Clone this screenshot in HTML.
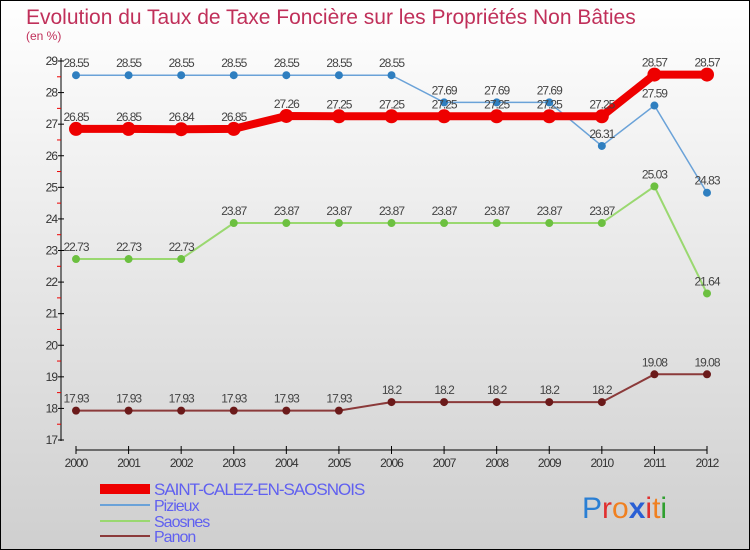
<!DOCTYPE html>
<html><head><meta charset="utf-8"><style>
body{margin:0}
svg{display:block;font-family:"Liberation Sans",sans-serif}
</style></head><body>
<svg width="750" height="550" viewBox="0 0 750 550">
<defs><linearGradient id="bg" x1="0" y1="0" x2="0" y2="1"><stop offset="0" stop-color="#ffffff"/><stop offset="1" stop-color="#cfcfcf"/></linearGradient></defs>
<rect x="0.5" y="0.5" width="749" height="549" fill="url(#bg)" stroke="#000"/>
<text x="26" y="24" font-size="21" fill="#c0305a">Evolution du Taux de Taxe Foncière sur les Propriétés Non Bâties</text>
<text x="26" y="40" font-size="12" fill="#c0305a">(en %)</text>
<g id="axes"></g>
<g id="series"></g>
<g id="legend"></g>
<g font-size="30">
<text x="582" y="518"><tspan fill="#2a7fd4">P</tspan><tspan fill="#e03030">r</tspan><tspan fill="#f08020">o</tspan><tspan fill="#2a5fd4" font-weight="bold">x</tspan><tspan fill="#e03030">i</tspan><tspan fill="#f08020">t</tspan><tspan fill="#30a030">i</tspan></text>
</g>
</svg>
<script>
const years=[2000,2001,2002,2003,2004,2005,2006,2007,2008,2009,2010,2011,2012];
const yTicks=[17,18,19,20,21,22,23,24,25,26,27,28,29];
const saint=[26.85,26.85,26.84,26.85,27.26,27.25,27.25,27.25,27.25,27.25,27.25,28.57,28.57];
const pizieux=[28.55,28.55,28.55,28.55,28.55,28.55,28.55,27.69,27.69,27.69,26.31,27.59,24.83];
const saosnes=[22.73,22.73,22.73,23.87,23.87,23.87,23.87,23.87,23.87,23.87,23.87,25.03,21.64];
const panon=[17.93,17.93,17.93,17.93,17.93,17.93,18.2,18.2,18.2,18.2,18.2,19.08,19.08];
const NS="http://www.w3.org/2000/svg";
const x=i=>76+i*(707-76)/(years.length-1);
const y=v=>440-(v-17)*(440-61)/12;
function mk(t,a,p){const e=document.createElementNS(NS,t);for(const k in a)e.setAttribute(k,a[k]);p.appendChild(e);return e;}
const ax=document.getElementById('axes');
let e=mk('line',{x1:61,y1:58,x2:61,y2:441,stroke:'#000'},ax);


e=mk('line',{x1:76,y1:450,x2:707,y2:450,stroke:'#000'},ax);


yTicks.forEach(v=>{
  mk('line',{x1:58,y1:y(v),x2:64,y2:y(v),stroke:'#000'},ax);
  if(v<29)mk('line',{x1:57,y1:y(v+0.5),x2:61,y2:y(v+0.5),stroke:'#e00'},ax);
  const t=mk('text',{x:57,y:y(v)+4,'font-size':12,fill:'#333','text-anchor':'end','letter-spacing':'-1'},ax);
  t.textContent=v;
  
  
});
years.forEach((yr,i)=>{
  mk('line',{x1:x(i),y1:446,x2:x(i),y2:454,stroke:'#000'},ax);
  const t=mk('text',{x:x(i),y:467,'font-size':12,fill:'#333','text-anchor':'middle','letter-spacing':'-1'},ax);
  t.textContent=yr;
  
  
});
const sg=document.getElementById('series');
function draw(data,name,col,dot,w,r){
  const g=mk('g',{},sg);
  
  
  mk('polyline',{points:data.map((v,i)=>x(i)+','+y(v)).join(' '),fill:'none',stroke:col,'stroke-width':w},g);
  data.forEach((v,i)=>{
    const c=mk('circle',{cx:x(i),cy:y(v),r:r,fill:dot},g);
    
    
    const t=mk('text',{x:x(i),y:y(v)-8,'font-size':12,fill:'#444','text-anchor':'middle','letter-spacing':'-1'},g);
    t.textContent=v;
    
    
  });
}
draw(panon,'panon','#8b3a3a','#6b1a1a',2,4);
draw(saosnes,'saosnes','#9ad870','#6cc040',2,4);
draw(pizieux,'pizieux','#6aa2d8','#2f7fc0',1.5,4);
draw(saint,'saint-calez','#ee0000','#ee0000',8,7);
const lg=document.getElementById('legend');
const items=[['SAINT-CALEZ-EN-SAOSNOIS','#ee0000',10,493,17],['Pizieux','#6aa2d8',2,509,16],['Saosnes','#9ad870',2,525,16],['Panon','#8b3a3a',2,540,16]];
items.forEach(it=>{
  const g=mk('g',{},lg);
  
  
  mk('line',{x1:100,y1:it[3]-4,x2:150,y2:it[3]-4,stroke:it[1],'stroke-width':it[2]},g);
  const t=mk('text',{x:154,y:it[3]+2,'font-size':it[4],fill:'#6060f0','letter-spacing':'-1'},g);
  t.textContent=it[0];
});
</script>
</body></html>
